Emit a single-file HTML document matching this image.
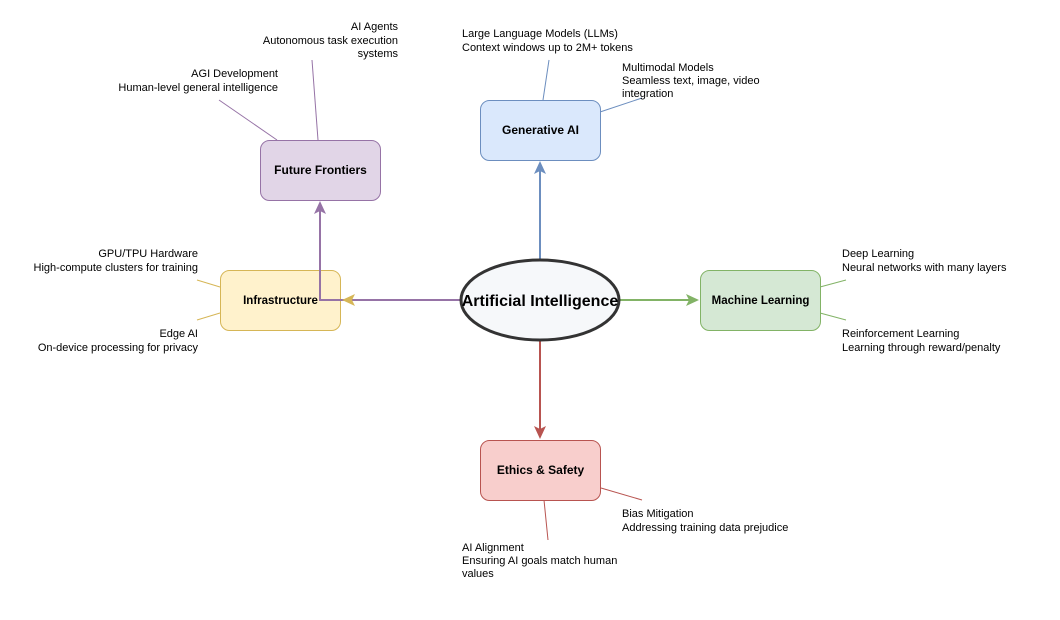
<!DOCTYPE html>
<html><head><meta charset="utf-8"><style>
html,body{margin:0;padding:0;background:#fff;}
svg{display:block;}
text{font-family:"Liberation Sans",Helvetica,Arial,sans-serif;font-size:11px;fill:#000;}
.b{font-weight:bold;font-size:12px;}
</style></head><body>
<svg width="1060" height="620" viewBox="0 0 1060 620" xmlns="http://www.w3.org/2000/svg">
<!-- leaf lines -->
<g fill="none" stroke-width="1">
<line x1="277" y1="140" x2="219" y2="100" stroke="#9673a6"/>
<line x1="318" y1="140" x2="312" y2="60" stroke="#9673a6"/>
<line x1="543" y1="100" x2="549" y2="60" stroke="#6c8ebf"/>
<line x1="600" y1="112" x2="642" y2="98" stroke="#6c8ebf"/>
<line x1="820" y1="287" x2="846" y2="280" stroke="#82b366"/>
<line x1="820" y1="313" x2="846" y2="320" stroke="#82b366"/>
<line x1="220" y1="287" x2="197" y2="280" stroke="#d6b656"/>
<line x1="220" y1="313" x2="197" y2="320" stroke="#d6b656"/>
<line x1="601" y1="488" x2="642" y2="500" stroke="#b85450"/>
<line x1="544" y1="500" x2="548" y2="540" stroke="#b85450"/>
</g>
<!-- boxes -->
<rect x="260.5" y="140.5" width="120" height="60" rx="9" fill="#e1d5e7" stroke="#9673a6"/>
<rect x="480.5" y="100.5" width="120" height="60" rx="9" fill="#dae8fc" stroke="#6c8ebf"/>
<rect x="220.5" y="270.5" width="120" height="60" rx="9" fill="#fff2cc" stroke="#d6b656"/>
<rect x="700.5" y="270.5" width="120" height="60" rx="9" fill="#d5e8d4" stroke="#82b366"/>
<rect x="480.5" y="440.5" width="120" height="60" rx="9" fill="#f8cecc" stroke="#b85450"/>
<!-- main edges -->
<g fill="none" stroke-width="2">
<line x1="540" y1="260" x2="540" y2="170" stroke="#6c8ebf"/>
<line x1="620" y1="300" x2="690" y2="300" stroke="#82b366"/>
<line x1="540" y1="340" x2="540" y2="430" stroke="#b85450"/>
<line x1="460" y1="300" x2="350" y2="300" stroke="#d6b656"/>
<polyline points="460,300 320,300 320,210" stroke="#9673a6"/>
</g>
<polygon points="540,161 546,174 540,171 534,174" fill="#6c8ebf"/>
<polygon points="699,300 686,306 689,300 686,294" fill="#82b366"/>
<polygon points="540,439 534,426 540,429 546,426" fill="#b85450"/>
<polygon points="342,300 355,294 352,300 355,306" fill="#d6b656"/>
<polygon points="320,201 326,214 320,211 314,214" fill="#9673a6"/>
<!-- ellipse -->
<ellipse cx="540" cy="300" rx="79" ry="40" fill="#f6f8fa" stroke="#333" stroke-width="3"/>
<text x="540" y="306" text-anchor="middle" style="font-weight:bold;font-size:16px">Artificial Intelligence</text>
<!-- box labels -->
<text class="b" x="320.5" y="174" text-anchor="middle">Future Frontiers</text>
<text class="b" x="540.5" y="134" text-anchor="middle">Generative AI</text>
<text class="b" x="280.5" y="304" text-anchor="middle" style="font-size:11.5px">Infrastructure</text>
<text class="b" x="760.5" y="304" text-anchor="middle" style="font-size:11.5px">Machine Learning</text>
<text class="b" x="540.5" y="474" text-anchor="middle">Ethics &amp; Safety</text>
<!-- leaf labels -->
<g text-anchor="end">
<text x="398" y="30">AI Agents</text>
<text x="398" y="44">Autonomous task execution</text>
<text x="398" y="57">systems</text>
<text x="278" y="77">AGI Development</text>
<text x="278" y="91">Human-level general intelligence</text>
<text x="198" y="257">GPU/TPU Hardware</text>
<text x="198" y="271">High-compute clusters for training</text>
<text x="198" y="337">Edge AI</text>
<text x="198" y="351">On-device processing for privacy</text>
</g>
<text x="462" y="37">Large Language Models (LLMs)</text>
<text x="462" y="51">Context windows up to 2M+ tokens</text>
<text x="622" y="71">Multimodal Models</text>
<text x="622" y="84">Seamless text, image, video</text>
<text x="622" y="97">integration</text>
<text x="842" y="257">Deep Learning</text>
<text x="842" y="271">Neural networks with many layers</text>
<text x="842" y="337">Reinforcement Learning</text>
<text x="842" y="351">Learning through reward/penalty</text>
<text x="622" y="517">Bias Mitigation</text>
<text x="622" y="531">Addressing training data prejudice</text>
<text x="462" y="551">AI Alignment</text>
<text x="462" y="564">Ensuring AI goals match human</text>
<text x="462" y="577">values</text>
</svg>
</body></html>
